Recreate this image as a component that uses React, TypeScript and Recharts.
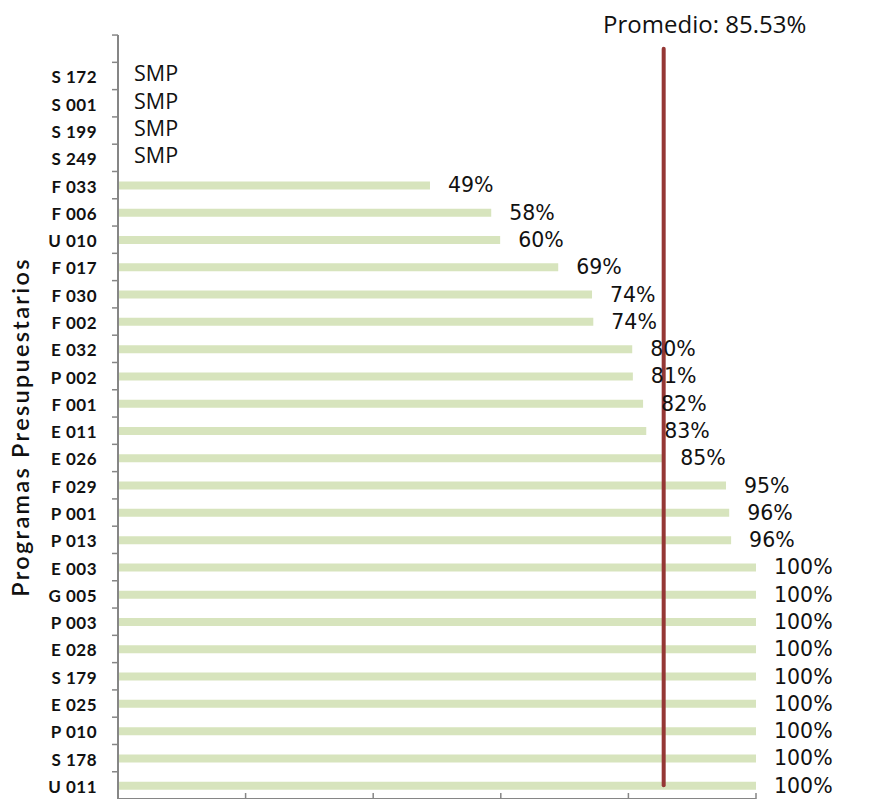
import React from 'react';
import { BarChart, Bar, XAxis, YAxis, ReferenceLine, LabelList } from 'recharts';

const programas = [
  'S 172', 'S 001', 'S 199', 'S 249', 'F 033', 'F 006', 'U 010', 'F 017', 'F 030',
  'F 002', 'E 032', 'P 002', 'F 001', 'E 011', 'E 026', 'F 029', 'P 001', 'P 013',
  'E 003', 'G 005', 'P 003', 'E 028', 'S 179', 'E 025', 'P 010', 'S 178', 'U 011',
];

// null = SMP (sin medición)
const cumplimiento: (number | null)[] = [
  null, null, null, null, 49, 58, 60, 69, 74,
  74, 80, 81, 82, 83, 85, 95, 96, 96,
  100, 100, 100, 100, 100, 100, 100, 100, 100,
];

// largo de las barras (el texto muestra el redondeo)
const largoBarra: (number | null)[] = [
  null, null, null, null, 48.9, 58.5, 59.9, 69, 74.3,
  74.5, 80.6, 80.7, 82.3, 82.8, 85.3, 95.3, 95.8, 96.1,
  100, 100, 100, 100, 100, 100, 100, 100, 100,
];

const promedio = 85.53;
const ticksX = [0, 20, 40, 60, 80, 100];

const data = [
  { programa: ' ', valor: 0, etiqueta: '' },
  ...programas.map((p, i) => ({
    programa: p,
    valor: largoBarra[i] ?? 0,
    etiqueta: cumplimiento[i] === null ? 'SMP' : `${cumplimiento[i]}%`,
  })),
];

const ANCHO = 878;
const ALTO = 799;
const TOP = 35;
const BOTTOM = 3;
const banda = (ALTO - TOP - BOTTOM) / data.length;

const TickPrograma = (props: any) => {
  const { x, y, payload } = props;
  const fila = data.find((d) => d.programa === payload.value);
  return (
    <g>
      <line x1={x - 6} x2={x} y1={y - banda / 2} y2={y - banda / 2} stroke="#868686" strokeWidth={1.5} />
      <text
        x={x - 21}
        y={y + 1}
        textAnchor="end"
        dominantBaseline="central"
        fontFamily="Lato, 'Noto Sans', sans-serif"
        fontWeight="bold"
        fontSize={17}
        letterSpacing={0.5}
        fill="#111"
      >
        {payload.value}
      </text>
      {fila && fila.etiqueta === 'SMP' && (
        <text
          x={x + 16}
          y={y - 3}
          dominantBaseline="central"
          fontFamily="'Open Sans', sans-serif"
          fontSize={21.5}
          fill="#111"
        >
          SMP
        </text>
      )}
    </g>
  );
};

const EtiquetaValor = (props: any) => {
  const { x, y, width, height, value } = props;
  if (!value || value === 'SMP') return null;
  return (
    <text
      x={Number(x) + Number(width) + 18}
      y={Number(y) + Number(height) / 2}
      dominantBaseline="central"
      fontFamily="'DejaVu Sans', sans-serif"
      fontSize={20.5}
      fill="#111"
    >
      {value}
    </text>
  );
};

const TituloEje = (props: any) => {
  const { viewBox } = props;
  const cx = 20;
  const cy = viewBox.y + viewBox.height / 2 + 10;
  return (
    <text
      x={cx}
      y={cy}
      transform={`rotate(-90, ${cx}, ${cy})`}
      textAnchor="middle"
      dominantBaseline="central"
      fontFamily="Lato, 'Noto Sans', sans-serif"
      fontSize={23.5}
      fontWeight={600}
      letterSpacing={2.3}
      fill="#111"
    >
      Programas Presupuestarios
    </text>
  );
};

const EtiquetaPromedio = (props: any) => {
  const { viewBox } = props;
  return (
    <text
      x={viewBox.x + 41}
      y={viewBox.y - 16}
      textAnchor="middle"
      fontFamily="'Open Sans', sans-serif"
      fontSize={24}
      fill="#111"
    >
      {`Promedio: ${promedio.toFixed(2)}%`}
    </text>
  );
};

export default function App() {
  return (
    <div style={{ position: 'absolute', left: 0, top: 0, width: ANCHO, height: ALTO, background: '#fff' }}>
      <BarChart
        width={ANCHO}
        height={ALTO}
        data={data}
        layout="vertical"
        margin={{ top: TOP, right: 122, bottom: 0, left: 0 }}
        barCategoryGap={0}
      >
        <XAxis
          type="number"
          domain={[0, 100]}
          ticks={ticksX}
          height={BOTTOM}
          mirror
          tickSize={6}
          tickFormatter={() => ''}
          stroke="#868686"
          axisLine={{ stroke: '#868686', strokeWidth: 2 }}
          tickLine={{ stroke: '#868686', strokeWidth: 1.5 }}
        />
        <YAxis
          type="category"
          dataKey="programa"
          width={118}
          interval={0}
          tickSize={0}
          tickMargin={0}
          tickLine={false}
          tick={<TickPrograma />}
          axisLine={{ stroke: '#868686', strokeWidth: 2 }}
          label={<TituloEje />}
        />
        <Bar dataKey="valor" fill="#d7e4bd" barSize={8} isAnimationActive={false}>
          <LabelList dataKey="etiqueta" content={<EtiquetaValor />} />
        </Bar>
        <ReferenceLine
          segment={[
            { x: promedio, y: ' ' },
            { x: promedio, y: 'U 011' },
          ]}
          stroke="#953735"
          strokeWidth={4}
          strokeLinecap="round"
          label={<EtiquetaPromedio />}
        />
      </BarChart>
    </div>
  );
}
